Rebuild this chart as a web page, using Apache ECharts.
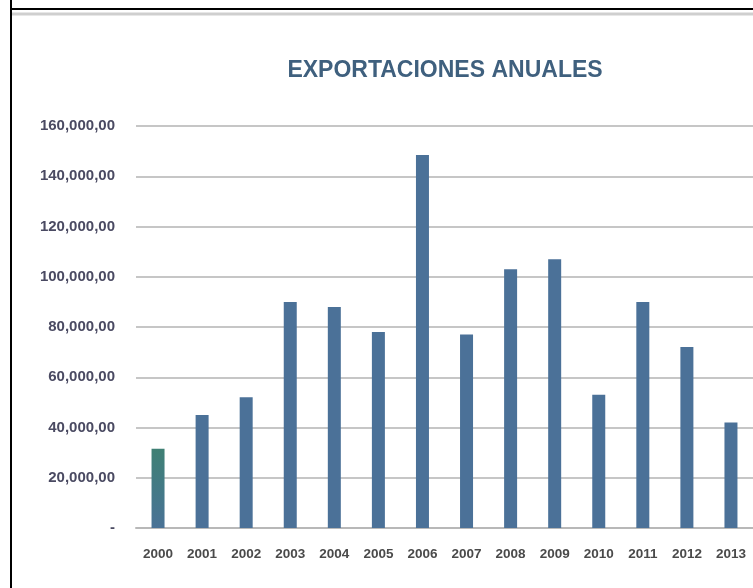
<!DOCTYPE html>
<html>
<head>
<meta charset="utf-8">
<script src="https://cdn.jsdelivr.net/npm/echarts@6/dist/echarts.min.js"></script>
<style>
html,body{margin:0;padding:0;background:#fff;}
#c{width:753px;height:588px;}
</style>
</head>
<body>
<div id="c"></div>
<script>
var years = ['2000','2001','2002','2003','2004','2005','2006','2007','2008','2009','2010','2011','2012','2013'];
var exportaciones = [31500, 45000, 52000, 90000, 88000, 78000, 148500, 77000, 103000, 107000, 53000, 90000, 72000, 42000];
var yMax = 160000;
var yStep = 20000;
var titleText = 'EXPORTACIONES ANUALES';

function fmt(v){
  if (v === 0) return '-';
  var s = String(Math.round(v));
  s = s.replace(/\B(?=(\d{3})+(?!\d))/g, ',');
  return s + ',00';
}

var chart = echarts.init(document.getElementById('c'), null, {renderer:'canvas'});
var barColor = '#4b7198';
var firstColor = new echarts.graphic.LinearGradient(0,0,0,1,[
  {offset:0,color:'#3f8074'},{offset:0.5,color:'#437a86'},{offset:1,color:'#4a7296'}
]);
chart.setOption({
  backgroundColor:'#ffffff',
  animation:false,
  title:{
    text:titleText, left:440, top:54, textAlign:'center',
    textStyle:{fontFamily:'Liberation Sans, Arial, sans-serif', fontSize:23, fontWeight:'bold', color:'#3f607e'}
  },
  graphic:[
    {type:'line', shape:{x1:11,y1:0,x2:11,y2:588}, style:{stroke:'#000',lineWidth:2}},
    {type:'line', shape:{x1:10,y1:9,x2:753,y2:9}, style:{stroke:'#000',lineWidth:2}},
    {type:'line', shape:{x1:12,y1:14,x2:753,y2:14}, style:{stroke:'#cfcfcf',lineWidth:3}}
  ],
  grid:{left:136, right:0, top:126, bottom:60},
  xAxis:{
    type:'category', data:years,
    axisLine:{lineStyle:{color:'#b8b8b8', width:2}},
    axisTick:{show:false},
    axisLabel:{margin:19, fontFamily:'Liberation Sans, Arial, sans-serif', fontSize:13.5, fontWeight:'bold', color:'#4a4a4a'}
  },
  yAxis:{
    type:'value', min:0, max:yMax, interval:yStep,
    axisLine:{show:false}, axisTick:{show:false},
    splitLine:{lineStyle:{color:'#c6c6c6', width:2}},
    axisLabel:{margin:21, formatter:fmt, fontFamily:'Liberation Sans, Arial, sans-serif', fontSize:15, fontWeight:'bold', color:'#4a4a62'}
  },
  series:[{
    type:'bar', barWidth:13,
    data: exportaciones.map(function(v,i){ return {value:v, itemStyle:{color: i===0 ? firstColor : barColor}}; })
  }]
});
</script>
</body>
</html>
